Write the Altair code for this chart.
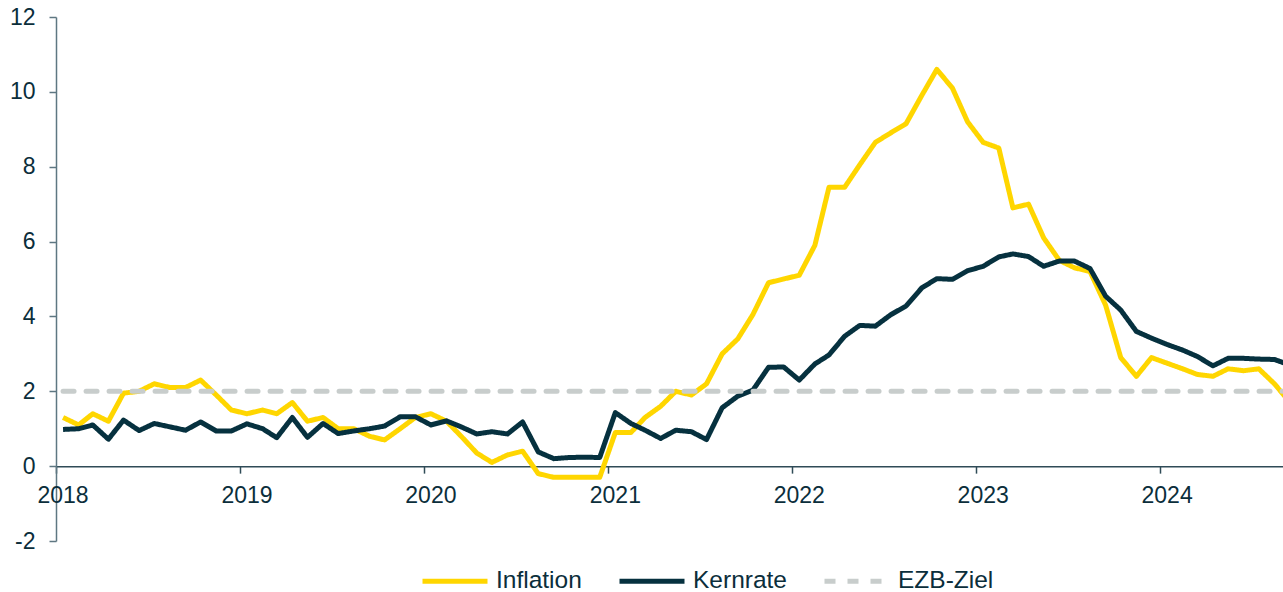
import altair as alt
import pandas as pd

# Monthly data Jan 2018 - Sep 2024 (values in %)
years = list(range(2018, 2025))
dates = [f"{y}-{m:02d}-15" for y in years for m in range(1, 13)][:81]
year_labels = [str(y) for y in years]

inflation = [
    1.3, 1.1, 1.4, 1.2, 1.95, 2.0, 2.2, 2.1, 2.1, 2.3, 1.9, 1.5,
    1.4, 1.5, 1.4, 1.7, 1.2, 1.3, 1.0, 1.0, 0.8, 0.7, 1.0, 1.3,
    1.4, 1.2, 0.8, 0.35, 0.1, 0.3, 0.4, -0.2, -0.3, -0.3, -0.3, -0.3,
    0.9, 0.9, 1.3, 1.6, 2.0, 1.9, 2.2, 3.0, 3.4, 4.05, 4.9, 5.0,
    5.1, 5.9, 7.45, 7.45, 8.05, 8.65, 8.9, 9.15, 9.9, 10.6, 10.1, 9.2,
    8.65, 8.5, 6.9, 7.0, 6.1, 5.5, 5.3, 5.2, 4.3, 2.9, 2.4, 2.9,
    2.75, 2.6, 2.45, 2.4, 2.6, 2.55, 2.6, 2.2, 1.7,
]
kernrate = [
    0.98, 1.0, 1.1, 0.72, 1.23, 0.95, 1.14, 1.05, 0.96, 1.18, 0.94, 0.94,
    1.13, 1.0, 0.76, 1.3, 0.77, 1.14, 0.87, 0.94, 1.0, 1.07, 1.32, 1.32,
    1.1, 1.21, 1.05, 0.86, 0.92, 0.86, 1.18, 0.38, 0.2, 0.23, 0.24, 0.23,
    1.43, 1.14, 0.96, 0.74, 0.96, 0.92, 0.71, 1.56, 1.87, 2.03, 2.64, 2.65,
    2.3, 2.73, 2.97, 3.47, 3.76, 3.74, 4.04, 4.28, 4.76, 5.01, 4.99, 5.22,
    5.34, 5.59, 5.67, 5.6, 5.34, 5.48, 5.48, 5.28, 4.54, 4.17, 3.6, 3.42,
    3.25, 3.1, 2.93, 2.68, 2.88, 2.88, 2.86, 2.85, 2.7,
]
ezb_ziel = [2.0] * len(dates)

series = ["Inflation", "Kernrate", "EZB-Ziel"]
colors = ["#FFD600", "#06313F", "#C8CDCC"]
dashes = [[1, 0], [1, 0], [11, 12]]

df = pd.DataFrame({
    "Monat": dates * 3,
    "Wert": inflation + kernrate + ezb_ziel,
    "Reihe": ["Inflation"] * len(dates) + ["Kernrate"] * len(dates) + ["EZB-Ziel"] * len(dates),
})
# year labels sit under the middle of January, as in the reference
labels_df = pd.DataFrame({
    "Monat": [f"{y}-01-15" for y in years],
    "Wert": [0] * len(years),
    "Jahr": year_labels,
})

W, H = 1227, 524
text_color = "#0B2E3B"
font = "Liberation Sans"

x_scale = alt.Scale(
    type="utc",
    domain=[alt.DateTime(year=2018, month=1, date=1, utc=True),
            alt.DateTime(year=2024, month=9, date=1, utc=True)],
)
y_scale = alt.Scale(domain=[-2, 12], nice=False, zero=False)

x_enc = alt.X(
    "Monat:T", scale=x_scale,
    axis=alt.Axis(
        values=[alt.DateTime(year=y, month=1, date=1, utc=True) for y in years],
        labels=False, title=None, grid=False,
        offset=-2 * H / 14, tickSize=7,
        domainColor="#2F4B57", tickColor="#2F4B57", domainWidth=1.5, tickWidth=1.5,
    ),
)
y_enc = alt.Y(
    "Wert:Q", scale=y_scale,
    axis=alt.Axis(
        values=list(range(-2, 13, 2)), title=None, grid=False,
        tickSize=7, labelPadding=14, labelExpr="datum.value + ''",
        domainColor="#5E7782", tickColor="#5E7782", domainWidth=1.5, tickWidth=1.5,
        labelFontSize=23, labelColor=text_color, labelFont=font,
    ),
)
color_enc = alt.Color("Reihe:N", scale=alt.Scale(domain=series, range=colors), title=None)
dash_enc = alt.StrokeDash("Reihe:N", scale=alt.Scale(domain=series, range=dashes), title=None)

base = alt.Chart(df).encode(x=x_enc, y=y_enc, color=color_enc, strokeDash=dash_enc)

l_infl = base.transform_filter(alt.datum.Reihe == "Inflation").mark_line(strokeWidth=5, clip=True, strokeJoin="round")
l_kern = base.transform_filter(alt.datum.Reihe == "Kernrate").mark_line(strokeWidth=5, clip=True, strokeJoin="round")
l_ezb = base.transform_filter(alt.datum.Reihe == "EZB-Ziel").mark_line(strokeWidth=5, clip=True, strokeCap="round")

year_text = alt.Chart(labels_df).mark_text(
    baseline="top", align="center", dy=19, fontSize=23, color=text_color, font=font
).encode(x=x_enc, y=y_enc, text="Jahr:N")

chart = (
    alt.layer(l_infl, l_kern, l_ezb, year_text)
    .properties(
        width=W, height=H,
        autosize=alt.AutoSizeParams(type="none"),
        padding={"left": 56, "top": 17, "right": 0, "bottom": 51},
    )
    .configure_view(stroke=None)
    .configure_legend(
        orient="none", legendX=364, legendY=529, direction="horizontal",
        symbolType="stroke", symbolSize=4225, symbolStrokeWidth=5,
        labelFontSize=24.5, labelColor=text_color, labelFont=font,
        labelOffset=6, columnPadding=27, padding=0,
    )
)

chart.save("out.html", embed_options={"renderer": "svg", "actions": False})
